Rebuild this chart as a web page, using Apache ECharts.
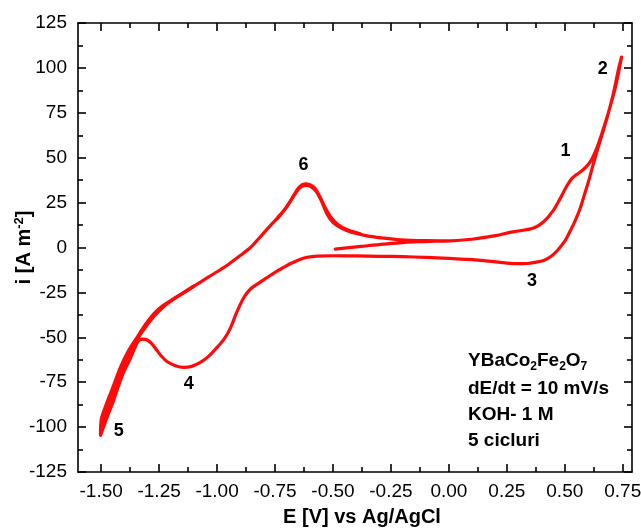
<!DOCTYPE html>
<html>
<head>
<meta charset="utf-8">
<script src="https://cdn.jsdelivr.net/npm/echarts@6/dist/echarts.min.js"></script>
<style>
  html, body { margin: 0; padding: 0; background: #fff; }
  #chart { width: 641px; height: 530px; }
</style>
</head>
<body>
<div id="chart"></div>
<script>
// Cyclic voltammogram of YBaCo2Fe2O7 in 1 M KOH, 10 mV/s, 5 cycles.
// Each point is [E (V vs Ag/AgCl), i (A m^-2)].

// Initial sweep from the open-circuit potential
const startSweep = [
  [-0.49, -0.9], [-0.44, -0.2], [-0.38, 0.6], [-0.281, 1.9], [-0.2, 2.7],
  [-0.137, 3.2], [-0.06, 3.5], [0.0, 3.7]
];

// Anodic sweep towards the positive limit (peak 1, limit 2)
const anodicHigh = [
  [0.0, 3.7], [0.1, 4.6], [0.2, 6.6], [0.25, 8.0], [0.3, 9.2], [0.366, 10.8],
  [0.41, 14.5], [0.45, 20.5], [0.481, 27.5], [0.51, 34.5], [0.531, 38.5],
  [0.55, 40.5], [0.567, 42.0], [0.585, 44.0], [0.603, 46.5], [0.62, 50.0],
  [0.639, 55.6], [0.66, 63.5], [0.689, 75.5], [0.718, 89.0], [0.745, 106.0]
];

// Cathodic sweep down to the negative limit (peaks 3, 4, limit 5)
const cathodic = [
  [0.745, 106.0], [0.733, 100.0], [0.71, 86.0], [0.682, 72.0], [0.66, 62.5],
  [0.639, 53.5], [0.62, 45.0], [0.603, 37.0], [0.585, 29.5], [0.567, 22.0],
  [0.545, 15.0], [0.524, 9.3], [0.5, 3.5], [0.467, -1.8], [0.44, -5.0],
  [0.409, -7.2], [0.37, -8.3], [0.337, -8.9], [0.3, -9.0], [0.25, -8.7],
  [0.222, -8.3], [0.15, -7.3], [0.1, -6.8], [0.0, -6.1], [-0.1, -5.5],
  [-0.2, -5.1], [-0.3, -4.9], [-0.4, -4.7], [-0.5, -4.6], [-0.569, -4.8],
  [-0.61, -5.4], [-0.64, -6.5], [-0.68, -8.8], [-0.713, -11.1], [-0.75, -13.8],
  [-0.784, -16.7], [-0.82, -19.8], [-0.856, -23.1], [-0.885, -28.0],
  [-0.915, -36.0], [-0.943, -45.0], [-0.97, -51.0], [-1.0, -55.6],
  [-1.036, -60.5], [-1.072, -64.0], [-1.11, -66.2], [-1.144, -66.7],
  [-1.18, -65.8], [-1.216, -63.5], [-1.24, -60.5], [-1.259, -57.4],
  [-1.28, -53.8], [-1.302, -51.5], [-1.32, -51.0], [-1.338, -51.8],
  [-1.352, -55.0], [-1.375, -62.0], [-1.403, -69.4], [-1.425, -77.0],
  [-1.446, -85.0], [-1.47, -93.0], [-1.49, -100.0], [-1.503, -104.6]
];

// Anodic sweep back from the negative limit (peak 6)
const anodicLow = [
  [-1.503, -104.6], [-1.5, -96.0], [-1.48, -88.0], [-1.45, -78.0],
  [-1.417, -66.7], [-1.38, -57.0], [-1.345, -50.0], [-1.31, -43.0],
  [-1.274, -37.0], [-1.24, -33.0], [-1.2, -29.6], [-1.15, -25.5],
  [-1.1, -21.5], [-1.05, -17.5], [-1.0, -13.5], [-0.95, -9.3], [-0.9, -4.5],
  [-0.856, 0.0], [-0.82, 5.0], [-0.784, 10.2], [-0.75, 15.0], [-0.713, 20.4],
  [-0.68, 26.5], [-0.655, 31.5], [-0.635, 34.0], [-0.612, 34.6],
  [-0.59, 33.5], [-0.569, 30.6], [-0.55, 26.0], [-0.525, 18.5], [-0.5, 14.0],
  [-0.468, 11.1], [-0.42, 8.5], [-0.353, 6.5], [-0.28, 5.2], [-0.209, 4.3],
  [-0.1, 3.8], [0.0, 3.7]
];

// Later cycles where they drift from the first one
const laterLimitTurn = [
  [-1.34, -50.5], [-1.36, -55.0], [-1.38, -59.5], [-1.41, -68.0],
  [-1.44, -78.5], [-1.47, -89.0], [-1.497, -99.5], [-1.49, -94.0],
  [-1.465, -85.0], [-1.435, -75.0], [-1.405, -65.0], [-1.375, -57.0],
  [-1.345, -51.0], [-1.31, -44.5], [-1.27, -38.0], [-1.23, -32.8],
  [-1.19, -29.0], [-1.15, -25.7], [-1.1, -21.6]
];
const laterPeak6 = [
  [-0.74, 16.0], [-0.70, 22.5], [-0.665, 30.0], [-0.645, 33.8], [-0.62, 35.5],
  [-0.597, 34.8], [-0.575, 32.5], [-0.555, 28.0], [-0.535, 22.5],
  [-0.51, 17.0], [-0.48, 13.0], [-0.44, 10.0], [-0.38, 7.5]
];

// Peak / limit annotations: [E, i, label]
const peakLabels = [
  [0.503, 53.7, '1'], [0.664, 99.4, '2'], [0.359, -18.5, '3'],
  [-1.122, -75.9, '4'], [-1.424, -102.4, '5'], [-0.627, 46.0, '6']
];

// Axis ticks
const eMajor = [-1.5, -1.25, -1.0, -0.75, -0.5, -0.25, 0.0, 0.25, 0.5, 0.75];
const eMinor = [-1.375, -1.125, -0.875, -0.625, -0.375, -0.125, 0.125, 0.375, 0.625];
const iMin = -125, iMax = 125, iStep = 25;
const eMin = -1.6, eMax = 0.79;

const FONT = 'Liberation Sans, Arial, Helvetica, sans-serif';
const RED = '#ff0a0a';
const INK = '#000';
const lineStyle = { color: '#000', width: 1.6 };

function xAxisDef(position, ticks, len, opts) {
  return Object.assign({
    type: 'value', position: position, min: eMin, max: eMax,
    axisLine: { show: false, onZero: false, lineStyle: lineStyle },
    axisTick: { show: true, inside: true, length: len, customValues: ticks, lineStyle: lineStyle },
    axisLabel: { show: false },
    splitLine: { show: false }
  }, opts || {});
}

const chart = echarts.init(document.getElementById('chart'), null, { renderer: 'canvas' });

const line = (data, w) => ({
  type: 'line', data: data, showSymbol: false, smooth: 0.3,
  lineStyle: { color: RED, width: w, cap: 'round', join: 'round' },
  itemStyle: { color: RED }, silent: true, z: 3
});

chart.setOption({
  animation: false,
  backgroundColor: '#fff',
  textStyle: { fontFamily: FONT },
  grid: { left: 78, right: 9, top: 23, bottom: 58, containLabel: false, outerBoundsMode: 'none' },
  xAxis: [
    xAxisDef('bottom', eMajor, 8, {
      axisLine: { show: true, onZero: false, lineStyle: lineStyle },
      axisLabel: {
        show: true, customValues: eMajor, margin: 10, fontSize: 19, color: INK,
        fontFamily: FONT, formatter: v => v.toFixed(2)
      },
      name: 'E [V] vs Ag/AgCl', nameLocation: 'middle', nameGap: 35, nameMoveOverlap: false,
      nameTextStyle: { fontSize: 20, fontWeight: 'bold', color: INK, fontFamily: FONT, padding: [0, 0, 0, 14] }
    }),
    xAxisDef('bottom', eMinor, 5),
    xAxisDef('top', eMajor, 8, { axisLine: { show: true, onZero: false, lineStyle: lineStyle } }),
    xAxisDef('top', eMinor, 5)
  ],
  yAxis: [
    {
      type: 'value', position: 'left', min: iMin, max: iMax, interval: iStep,
      axisLine: { show: true, onZero: false, lineStyle: lineStyle },
      axisTick: { show: true, inside: true, length: 8, lineStyle: lineStyle },
      minorTick: { show: true, splitNumber: 2, length: 5, lineStyle: lineStyle },
      axisLabel: { fontSize: 19, color: INK, margin: 11, fontFamily: FONT },
      splitLine: { show: false },
      name: '{t|i [A m}{sup|-2}{t|]}', nameLocation: 'middle', nameGap: 43, nameRotate: 90,
      nameMoveOverlap: false,
      nameTextStyle: {
        rich: {
          t: { fontSize: 20, fontWeight: 'bold', color: INK, fontFamily: FONT, lineHeight: 22 },
          sup: { fontSize: 13, fontWeight: 'bold', color: INK, fontFamily: FONT, verticalAlign: 'top', lineHeight: 22, padding: [0, 0, 8, 0] }
        }
      }
    },
    {
      type: 'value', position: 'right', min: iMin, max: iMax, interval: iStep,
      axisLine: { show: true, onZero: false, lineStyle: lineStyle },
      axisTick: { show: true, inside: true, length: 8, lineStyle: lineStyle },
      minorTick: { show: true, splitNumber: 2, length: 5, lineStyle: lineStyle },
      axisLabel: { show: false },
      splitLine: { show: false }
    }
  ],
  series: [
    line(startSweep.concat(anodicHigh.slice(1), cathodic.slice(1), anodicLow.slice(1)), 3.2),
    line(laterLimitTurn, 3.4),
    line(laterPeak6, 3.2),
    {
      type: 'scatter', data: peakLabels, symbolSize: 0, silent: true, z: 5,
      itemStyle: { color: '#000', opacity: 1 },
      label: {
        show: true, position: 'inside', formatter: p => p.value[2],
        fontSize: 18, fontWeight: 'bold', color: INK, fontFamily: FONT,
        textBorderWidth: 0, opacity: 1
      }
    }
  ],
  graphic: [
    {
      type: 'text', left: 468, top: 347, silent: true,
      style: {
        text: '{b|YBaCo}{s|2}{b|Fe}{s|2}{b|O}{s|7}',
        rich: {
          b: { fontSize: 19, fontWeight: 'bold', fill: INK, fontFamily: FONT, lineHeight: 22, verticalAlign: 'top' },
          s: { fontSize: 12, fontWeight: 'bold', fill: INK, fontFamily: FONT, lineHeight: 12, verticalAlign: 'bottom', padding: [14, 0, 0, 0] }
        }
      }
    },
    { type: 'text', left: 468, top: 379, silent: true,
      style: { text: 'dE/dt = 10 mV/s', font: 'bold 19px ' + FONT, fill: INK } },
    { type: 'text', left: 468, top: 405, silent: true,
      style: { text: 'KOH- 1 M', font: 'bold 19px ' + FONT, fill: INK } },
    { type: 'text', left: 468, top: 431, silent: true,
      style: { text: '5 cicluri', font: 'bold 19px ' + FONT, fill: INK } }
  ]
});
</script>
</body>
</html>
